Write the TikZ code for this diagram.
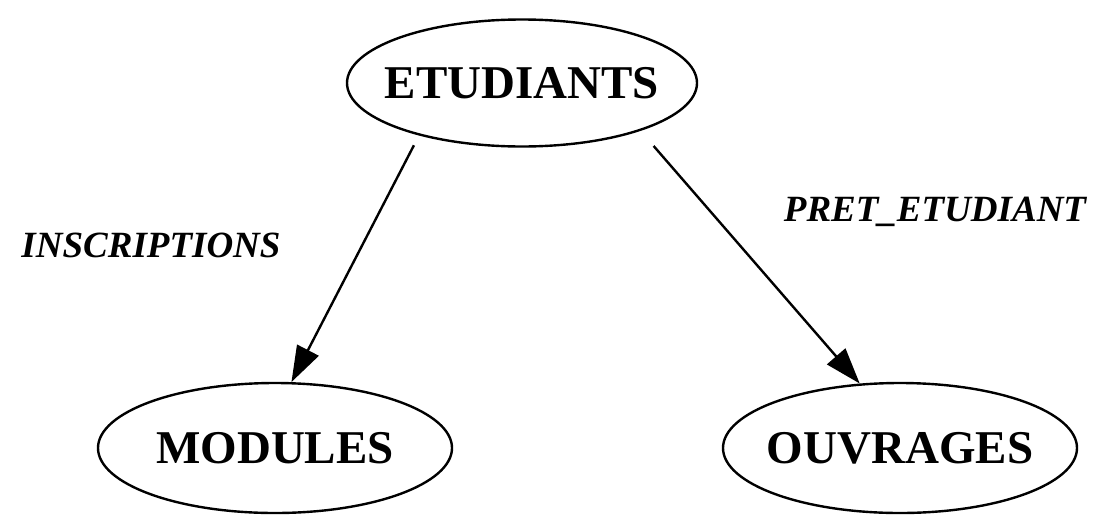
\documentclass[tikz,border=0pt]{standalone}
\usepackage{fontspec}
\setmainfont{Liberation Serif}
\usetikzlibrary{shapes.geometric,arrows.meta}
\begin{document}
\begin{tikzpicture}[x=1pt,y=-1pt,
  entity/.style={draw=black, line width=2.4pt, ellipse, inner xsep=-45pt, inner ysep=0pt,
    minimum width=354pt, minimum height=130pt,
    font=\fontsize{47}{50}\selectfont\bfseries},
  rel/.style={font=\fontsize{37}{42}\selectfont\bfseries\itshape, inner sep=0pt},
  link/.style={line width=2.4pt, -{Triangle[length=36pt,width=24pt]}}]
\useasboundingbox (0,0) rectangle (1097,517);
\node[entity, minimum width=350pt, minimum height=127pt] (e) at (522,83) {ETUDIANTS};
\node[entity] (m) at (275,448) {MODULES};
\node[entity] (o) at (900,448) {OUVRAGES};
\node[rel] (l1) at (151,245) {INSCRIPTIONS};
\node[rel] (l2) at (935,212) {PRET\_ETUDIANT};
\draw[link, shorten <=11pt] (e.207.8) -- (m.76);
\draw[link, shorten <=20pt] (e.338) -- (o.122.3);
\end{tikzpicture}
\end{document}
